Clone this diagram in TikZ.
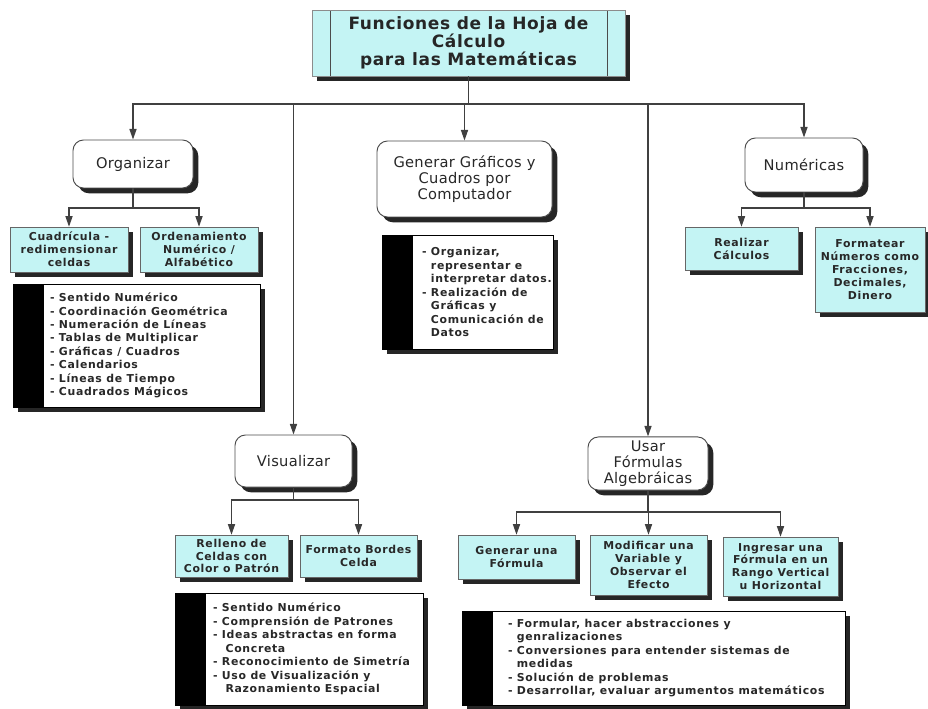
\documentclass[tikz,border=0pt]{standalone}
\usepackage{fontspec}
\setmainfont{DejaVu Sans}
\newfontfamily\fuentecaja[LetterSpace=6]{DejaVu Sans}
\newfontfamily\fuentetitulo[LetterSpace=4]{DejaVu Sans}
\newfontfamily\fuentenivel[LetterSpace=2]{DejaVu Sans}
\usetikzlibrary{arrows.meta,shadows}
\definecolor{celeste}{RGB}{196,244,244}
\definecolor{tinta}{RGB}{40,40,40}
\def\px{0.03cm}
\tikzset{
	sombra/.style={drop shadow={shadow xshift=4.5pt,shadow yshift=-4.5pt,fill=black,opacity=.85}},
	cajatitulo/.style={draw=black!45, fill=celeste, sombra, align=center, text=black!85,
		font=\fuentetitulo\bfseries\fontsize{14.5}{15.5}\selectfont,
		path picture={
			\draw[black!70] ([xshift=18*\px]path picture bounding box.south west) -- ([xshift=18*\px]path picture bounding box.north west);
			\draw[black!70] ([xshift=-18*\px]path picture bounding box.south east) -- ([xshift=-18*\px]path picture bounding box.north east);}},
	cajaredonda/.style={draw=black!70, line width=0.8pt, fill=white, rounded corners=9pt, sombra, align=center, text=tinta,
		font=\fuentenivel\fontsize{12.5}{13.5}\selectfont},
	cajaceleste/.style={draw=black!60, fill=celeste, sombra, align=center, text=tinta,
		font=\fuentecaja\bfseries\fontsize{9.3}{11}\selectfont},
	cajalista/.style={draw=black, fill=white, sombra,
		path picture={\fill[black] (path picture bounding box.south west) rectangle ([xshift=31*\px]path picture bounding box.north west);}},
	textolista/.style={align=left, inner sep=0pt, text=tinta, font=\fuentecaja\bfseries\fontsize{9.3}{11.5}\selectfont},
	flecha/.style={draw=black!75, line width=1.1pt, -{Triangle[length=9pt,width=6pt]}}
}

\begin{document}
\begin{tikzpicture}[x=0.03cm, y=-0.03cm]
		%%%%% START %%%%%
		\useasboundingbox (0,0) rectangle (928,709);
		
		\node[cajatitulo, minimum width=313*\px, minimum height=66*\px] (titulo) at (468.5,43) {Funciones de la Hoja de\\Cálculo\\para las Matemáticas};
		
		% primer nivel
		\node[cajaredonda, minimum width=120*\px, minimum height=48*\px] (organizar) at (133,164) {Organizar};
		\node[cajaredonda, minimum width=175*\px, minimum height=76*\px] (generar) at (464.5,179) {Generar Gráficos y\\Cuadros por\\Computador};
		\node[cajaredonda, minimum width=118*\px, minimum height=54*\px] (numericas) at (804,165) {Numéricas};
		\node[cajaredonda, minimum width=117*\px, minimum height=52*\px] (visualizar) at (293.5,461) {Visualizar};
		\node[cajaredonda, minimum width=120*\px, minimum height=53*\px] (usar) at (648,463.5) {Usar\\Fórmulas\\Algebráicas};
		
		% segundo nivel
		\node[cajaceleste, minimum width=118*\px, minimum height=45*\px] (cuadricula) at (69,249.5) {Cuadrícula -\\redimensionar\\celdas};
		\node[cajaceleste, minimum width=118*\px, minimum height=45*\px] (ordenamiento) at (199,249.5) {Ordenamiento\\Numérico /\\Alfabético};
		\node[cajaceleste, minimum width=113*\px, minimum height=43*\px] (realizar) at (741.5,248.5) {Realizar\\Cálculos};
		\node[cajaceleste, minimum width=110*\px, minimum height=85*\px] (formatear) at (870,269.5) {Formatear\\Números como\\Fracciones,\\Decimales,\\Dinero};
		\node[cajaceleste, minimum width=113*\px, minimum height=42*\px] (relleno) at (231.5,556) {Relleno de\\Celdas con\\Color o Patrón};
		\node[cajaceleste, minimum width=117*\px, minimum height=42*\px] (bordes) at (358.5,556) {Formato Bordes\\Celda};
		\node[cajaceleste, minimum width=117*\px, minimum height=44*\px] (formula) at (516.5,557) {Generar una\\Fórmula};
		\node[cajaceleste, minimum width=117*\px, minimum height=60*\px] (modificar) at (648.5,565) {Modificar una\\Variable y\\Observar el\\Efecto};
		\node[cajaceleste, minimum width=115*\px, minimum height=59*\px] (ingresar) at (780.5,566.5) {Ingresar una\\Fórmula en un\\Rango Vertical\\u Horizontal};
		
		% listas
		\node[cajalista, minimum width=247*\px, minimum height=123*\px] (lista1) at (136.5,345.5) {};
		\node[textolista, anchor=west] (texto1) at ([xshift=37*\px]lista1.west) {- Sentido Numérico\\- Coordinación Geométrica\\- Numeración de Líneas\\- Tablas de Multiplicar\\- Gráficas / Cuadros\\- Calendarios\\- Líneas de Tiempo\\- Cuadrados Mágicos};
		
		\node[cajalista, minimum width=171*\px, minimum height=114*\px] (lista2) at (467.5,292) {};
		\node[textolista, anchor=west] (texto2) at ([xshift=40*\px]lista2.west) {- Organizar,\\\phantom{- }representar e\\\phantom{- }interpretar datos.\\- Realización de\\\phantom{- }Gráficas y\\\phantom{- }Comunicación de\\\phantom{- }Datos};
		
		\node[cajalista, minimum width=248*\px, minimum height=112*\px] (lista3) at (299,649) {};
		\node[textolista, anchor=west] (texto3) at ([xshift=38*\px]lista3.west) {- Sentido Numérico\\- Comprensión de Patrones\\- Ideas abstractas en forma\\\phantom{- i}Concreta\\- Reconocimiento de Simetría\\- Uso de Visualización y\\\phantom{- i}Razonamiento Espacial};
		
		\node[cajalista, minimum width=383*\px, minimum height=94*\px] (lista4) at (653.5,658) {};
		\node[textolista, anchor=west] (texto4) at ([xshift=46*\px]lista4.west) {- Formular, hacer abstracciones y\\\phantom{- }genralizaciones\\- Conversiones para entender sistemas de\\\phantom{- }medidas\\- Solución de problemas\\- Desarrollar, evaluar argumentos matemáticos};
		
		% conectores
		\coordinate (barra) at (0,104);
		\foreach \hijo in {organizar,visualizar,generar,usar,numericas}
			\draw[flecha] (titulo.south) -- (titulo.south |- barra) -| (\hijo.north);
		
		\coordinate (barraorg) at (0,208);
		\foreach \hijo in {cuadricula,ordenamiento}
			\draw[flecha] (organizar.south) -- (organizar.south |- barraorg) -| (\hijo.north);
		
		\coordinate (barranum) at (0,208);
		\foreach \hijo in {realizar,formatear}
			\draw[flecha] (numericas.south) -- (numericas.south |- barranum) -| (\hijo.north);
		
		\coordinate (barravis) at (0,500);
		\foreach \hijo in {relleno,bordes}
			\draw[flecha] (visualizar.south) -- (visualizar.south |- barravis) -| (\hijo.north);
		
		\coordinate (barrausar) at (0,512);
		\foreach \hijo in {formula,modificar,ingresar}
			\draw[flecha] (usar.south) -- (usar.south |- barrausar) -| (\hijo.north);
		
		%%%%% END %%%%%
\end{tikzpicture}
\end{document}
